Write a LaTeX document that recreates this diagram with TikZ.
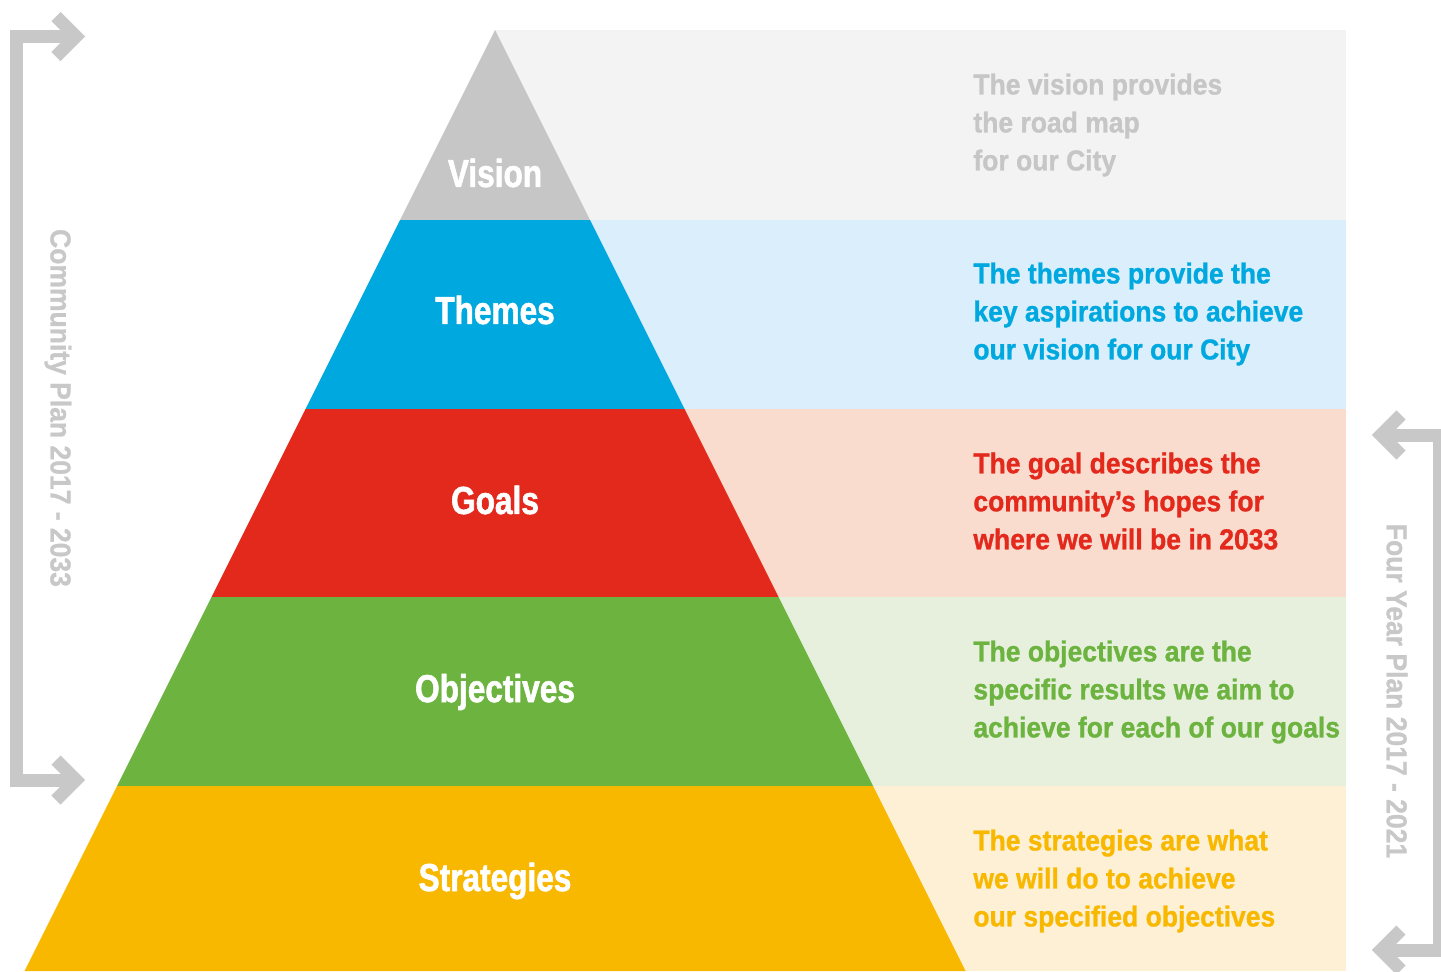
\documentclass[tikz,border=0pt]{standalone}
\usepackage{fontspec}
\setmainfont{Liberation Sans}
\newfontfamily\tierfont[FakeStretch=0.81,FakeBold=1.5]{Liberation Sans Bold}
\newfontfamily\notefont[FakeStretch=0.92,FakeBold=1]{Liberation Sans Bold}
\usetikzlibrary{positioning}

\definecolor{visiongrey}{HTML}{C6C6C6}
\definecolor{visionbg}{HTML}{F3F3F3}
\definecolor{themeblue}{HTML}{00A8E0}
\definecolor{themebg}{HTML}{DAEEFB}
\definecolor{goalred}{HTML}{E3281C}
\definecolor{goalbg}{HTML}{FADCCE}
\definecolor{objgreen}{HTML}{6CB33F}
\definecolor{objbg}{HTML}{E6F0DC}
\definecolor{stratyellow}{HTML}{F9B800}
\definecolor{stratbg}{HTML}{FEF0D5}
\definecolor{bracketgrey}{HTML}{C8C8C8}

\begin{document}
\begin{tikzpicture}[x=0.5pt,y=-0.5pt,
% Tier label style
    tier/.style={text=white,inner sep=0pt,
		font={\tierfont\fontsize{19.5pt}{23pt}\selectfont}},
% Note style
    note/.style={anchor=west,align=left,inner sep=0pt,
		font={\notefont\fontsize{14.4pt}{19pt}\selectfont}},
    plan/.style={text=bracketgrey,rotate=-90,inner sep=0pt,
		font={\notefont\fontsize{14.4pt}{19pt}\selectfont}},
% Bracket style
    bracket/.style={draw=bracketgrey,line width=6.5pt,line join=miter}
    ]

  \useasboundingbox (0,0) rectangle (1441,971);

  % row backgrounds
  \fill[visionbg] (495,30) rectangle (1346,220);
  \fill[themebg] (495,220) rectangle (1346,409);
  \fill[goalbg] (495,409) rectangle (1346,597);
  \fill[objbg] (495,597) rectangle (1346,786);
  \fill[stratbg] (495,786) rectangle (1346,971);

  % pyramid
  \fill[visiongrey] (495,30) -- (590,220) -- (400,220) -- cycle;
  \fill[themeblue] (400,220) -- (590,220) -- (684.5,409) -- (305.5,409) -- cycle;
  \fill[goalred] (305.5,409) -- (684.5,409) -- (778.5,597) -- (211.5,597) -- cycle;
  \fill[objgreen] (211.5,597) -- (778.5,597) -- (873,786) -- (117,786) -- cycle;
  \fill[stratyellow] (117,786) -- (873,786) -- (965.5,971) -- (24.5,971) -- cycle;

  \node (vision) [tier] at (495,173) {Vision};
  \node (themes) [tier] at (495,310) {Themes};
  \node (goals) [tier] at (495,500) {Goals};
  \node (objectives) [tier] at (495,692) {Objectives};
  \node (strategies) [tier] at (495,881) {Strategies};

  \node (nvision) [note,text=visiongrey] at (973,125) {The vision provides\\the road map\\for our City};
  \node (nthemes) [note,text=themeblue] at (973,314) {The themes provide the\\key aspirations to achieve\\our vision for our City};
  \node (ngoals) [note,text=goalred] at (973,501) {The goal describes the\\community’s hopes for\\where we will be in 2033};
  \node (nobjectives) [note,text=objgreen] at (973,692) {The objectives are the\\specific results we aim to\\achieve for each of our goals};
  \node (nstrategies) [note,text=stratyellow] at (973,881) {The strategies are what\\we will do to achieve\\our specified objectives};

  % brackets
  \coordinate (ltop) at (76,36.5);
  \coordinate (lbot) at (76,780);
  \coordinate (rtop) at (1381,435);
  \coordinate (rbot) at (1381,950);

  \draw[bracket] (ltop) -- (16.5,36.5) -- (16.5,780) -- (lbot);
  \draw[bracket] (ltop) +(-20,-20) -- (ltop) -- +(-20,20);
  \draw[bracket] (lbot) +(-20,-20) -- (lbot) -- +(-20,20);

  \draw[bracket] (rtop) -- (1439,435) -- (1439,950) -- (rbot);
  \draw[bracket] (rtop) +(20,-20) -- (rtop) -- +(20,20);
  \draw[bracket] (rbot) +(20,-20) -- (rbot) -- +(20,20);

  \node (cplan) [plan] at (58,408) {Community Plan 2017 - 2033};
  \node (fplan) [plan] at (1397,691) {Four Year Plan 2017 - 2021};

\end{tikzpicture}
\end{document}
